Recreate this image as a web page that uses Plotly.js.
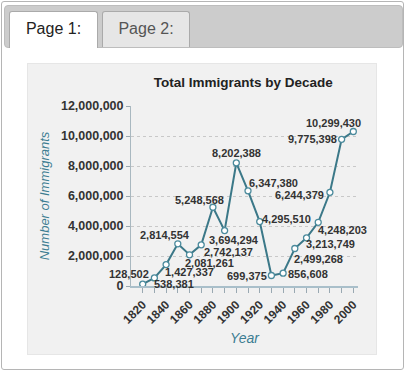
<!DOCTYPE html>
<html>
<head>
<meta charset="utf-8">
<script src="https://cdn.plot.ly/plotly-3.0.1.min.js"></script>
<style>
  html, body { margin: 0; padding: 0; background: #ffffff; width: 409px; height: 379px; overflow: hidden; font-family: "Liberation Sans", Arial, sans-serif; }
  #outer { position: absolute; left: 1px; top: 1px; width: 401px; height: 367px; border: 1px solid #b5b5b5; border-radius: 3px; background: #fff; }
  #tabbar { position: absolute; left: 4px; top: 5px; width: 397px; height: 41px; background: #cccccc; border: 1px solid #bdbdbd; border-radius: 4px; }
  .tab { position: absolute; top: 11px; height: 36px; border: 1px solid #aaaaaa; border-bottom: none; border-radius: 3px 3px 0 0; font-size: 16px; text-align: center; line-height: 34px; box-sizing: border-box; }
  #tab1 { left: 9px; width: 89px; background: #ffffff; color: #222; height: 37px; }
  #tab2 { left: 102px; width: 88px; background: #e6e6e6; color: #555; }
  #panel { position: absolute; left: 27px; top: 63px; width: 350px; height: 292px; background: #f1f1f1; border: 1px solid #e6e6e6; box-sizing: border-box; }
  #chart { position: absolute; left: 27px; top: 63px; width: 350px; height: 292px; }
</style>
</head>
<body>
<div id="outer"></div>
<div id="tabbar"></div>
<div class="tab" id="tab1">Page 1:</div>
<div class="tab" id="tab2">Page 2:</div>
<div id="panel"></div>
<div id="chart"></div>
<script>
// Data
const decades = [1820, 1830, 1840, 1850, 1860, 1870, 1880, 1890, 1900, 1910, 1920, 1930, 1940, 1950, 1960, 1970, 1980, 1990, 2000];
const immigrants = [128502, 538381, 1427337, 2814554, 2081261, 2742137, 5248568, 3694294, 8202388, 6347380, 4295510, 699375, 856608, 2499268, 3213749, 4248203, 6244379, 9775398, 10299430];
const xTickVals = [1820, 1830, 1840, 1850, 1860, 1870, 1880, 1890, 1900, 1910, 1920, 1930, 1940, 1950, 1960, 1970, 1980, 1990, 2000];
const xTickText = ["1820", "", "1840", "", "1860", "", "1880", "", "1900", "", "1920", "", "1940", "", "1960", "", "1980", "", "2000"];
const yTickVals = [0, 2000000, 4000000, 6000000, 8000000, 10000000, 12000000];
const yTickText = ["0", "2,000,000", "4,000,000", "6,000,000", "8,000,000", "10,000,000", "12,000,000"];

// Label offsets (pixels, style only)
const labelDx = [-14, 20, 23, -13, 20, 27, -13, 9, 0, 25, 27, -24, 25, 24, 24, 24, -30, -29, -20];
const labelDy = [-10, 6, 7, -9, 8, 7, -7, 9, -10, -8, -3, 0, 1, 10, 6, 8, 3, 0, -9];

const teal = '#3b7888';
const fmt = v => v.toLocaleString('en-US');

const annotations = decades.map((d, i) => ({
  x: d, y: immigrants[i], xref: 'x', yref: 'y',
  text: fmt(immigrants[i]), showarrow: false,
  xanchor: 'center', yanchor: 'middle',
  xshift: labelDx[i], yshift: -labelDy[i],
  font: { family: 'Liberation Sans, Arial, sans-serif', size: 11, color: '#333333', weight: 'bold' }
}));

const trace = {
  x: decades, y: immigrants, type: 'scatter', mode: 'lines+markers',
  line: { color: teal, width: 2 },
  marker: { symbol: 'circle', size: 6, color: '#ffffff', line: { color: '#4a8a9c', width: 1.3 } },
  hoverinfo: 'skip'
};

const layout = {
  width: 350, height: 292,
  margin: { l: 104, r: 19, t: 43, b: 69, pad: 0 },
  paper_bgcolor: 'rgba(0,0,0,0)', plot_bgcolor: 'rgba(0,0,0,0)',
  showlegend: false,
  title: { text: 'Total Immigrants by Decade', x: 0.618, xanchor: 'center', y: 0.935, yanchor: 'middle',
    font: { family: 'Liberation Sans, Arial, sans-serif', size: 13.5, color: '#222222', weight: 'bold' } },
  xaxis: {
    range: [1810, 2004], tickmode: 'array', tickvals: xTickVals, ticktext: xTickText,
    tickangle: -45, ticks: 'outside', ticklen: 5, tickcolor: '#9aa9b2', tickwidth: 1,
    showgrid: false, zeroline: false, showline: true, linecolor: '#a9bfca', linewidth: 2,
    tickfont: { family: 'Liberation Sans, Arial, sans-serif', size: 12, color: '#333333', weight: 'bold' },
    title: { text: 'Year', standoff: 8, font: { family: 'Liberation Sans, Arial, sans-serif', size: 14, color: '#3c7d92', style: 'italic' } }
  },
  yaxis: {
    range: [0, 12000000], tickmode: 'array', tickvals: yTickVals, ticktext: yTickText,
    ticks: 'outside', ticklen: 4, tickcolor: '#9aa9b2',
    showgrid: true, gridcolor: '#c8c8c8', griddash: 'dot', gridwidth: 1,
    zeroline: false, showline: true, linecolor: '#a9b8c0', linewidth: 1,
    tickfont: { family: 'Liberation Sans, Arial, sans-serif', size: 12.5, color: '#333333', weight: 'bold' },
    title: { text: 'Number of Immigrants', standoff: 8, font: { family: 'Liberation Sans, Arial, sans-serif', size: 13, color: '#3c7d92', style: 'italic' } }
  },
  annotations: annotations
};

Plotly.newPlot('chart', [trace], layout, { staticPlot: true, displayModeBar: false });
</script>
</body>
</html>
